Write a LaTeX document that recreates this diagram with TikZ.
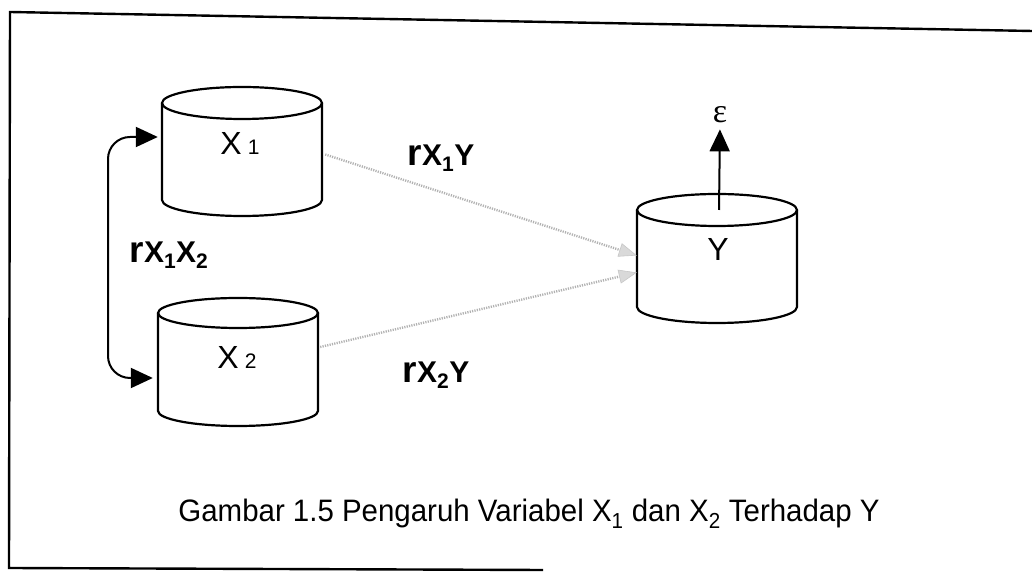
\documentclass[tikz,border=0pt]{standalone}
\usepackage{fontspec}
\setmainfont{Liberation Sans}
\newfontfamily\serifgreek{Liberation Serif}
\usetikzlibrary{arrows.meta}
\newcommand\cylx[5]{% cx, top-center y, bottom-center y, rx, ry
  \draw[cylline] (#1-#4,#2) -- (#1-#4,#3)
    arc[start angle=180,end angle=360,x radius=#4,y radius=#5] -- (#1+#4,#2);
  \draw[cylline] (#1,#2) ellipse[x radius=#4,y radius=#5];}
\newcommand\rlab[1]{{\fontsize{37}{37}\selectfont\bfseries r}{\fontsize{30}{30}\selectfont\bfseries #1}}
\newcommand\cyllab[2]{{\fontsize{32}{32}\selectfont #1\hspace{6pt}{\fontsize{21}{21}\selectfont #2}}}
\begin{document}
\begin{tikzpicture}[x=1pt,y=1pt,
  cylline/.style={line width=2.2pt},
  framel/.style={line width=2.4pt},
  body/.style={inner sep=0pt,minimum width=160pt},
  bigtip/.tip={Triangle[length=22pt,width=20pt]},
  solidarrow/.style={line width=2pt,-bigtip},
  twoway/.style={line width=2pt,rounded corners=22pt,bigtip-bigtip},
  faint/.style={draw=black!30,line width=2.4pt,dash pattern=on 1.2pt off 1.2pt,
     -{Triangle[length=18pt,width=14pt,fill=black!15,color=black!22,line width=0.6pt]}},
  lab/.style={inner sep=0pt}]
\useasboundingbox (0,0) rectangle (1032,580);
\draw[framel] (1032,549) -- (10,568) -- (9,12) -- (543,10);
% cylinders
\cylx{242}{477}{380}{80}{16}
\cylx{238}{267}{169}{80}{15}
\cylx{717}{370}{273}{80}{16}
\node[body,minimum height=97pt] (cX1) at (242,428.5) {};
\node[body,minimum height=98pt] (cX2) at (238,218) {};
\node[body,minimum height=97pt] (cY) at (717,321.5) {};
\node[lab] (X1) at (240,437) {\cyllab{X}{1}};
\node[lab] (X2) at (237,223) {\cyllab{X}{2}};
\node[lab] (Y) at (718,331) {\fontsize{32}{32}\selectfont Y};
% epsilon
\node[inner sep=2pt] (eps) at (720,465) {\fontsize{34}{34}\selectfont\serifgreek ε};
\coordinate (Ytop) at (719,370);
\draw[solidarrow,shorten >=4pt] (Ytop) -- (eps.south);
% labels
\node[lab] (r12) at (169,325) {\rlab{X\textsubscript{1}X\textsubscript{2}}};
\node[lab] (r1y) at (441,422) {\rlab{X\textsubscript{1}Y}};
\node[lab] (r2y) at (436,205) {\rlab{X\textsubscript{2}Y}};
% double arrow
\draw[twoway] ([xshift=-5pt,yshift=-16pt]cX2.west) -| (108,320) |- ([xshift=-4pt,yshift=14.5pt]cX1.west);
% faint paths
\draw[faint] ([xshift=3pt,yshift=-3pt]cX1.east) -- ([yshift=3pt]cY.west);
\draw[faint] ([xshift=2pt,yshift=15pt]cX2.east) -- ([yshift=-14pt]cY.west);
% caption
\node[anchor=base,inner sep=0pt] (cap) at (529,58) {\fontsize{31}{31}\selectfont\scalebox{0.95}[1]{Gambar 1.5 Pengaruh Variabel X\textsubscript{1} dan X\textsubscript{2} Terhadap Y}};
\end{tikzpicture}
\end{document}
